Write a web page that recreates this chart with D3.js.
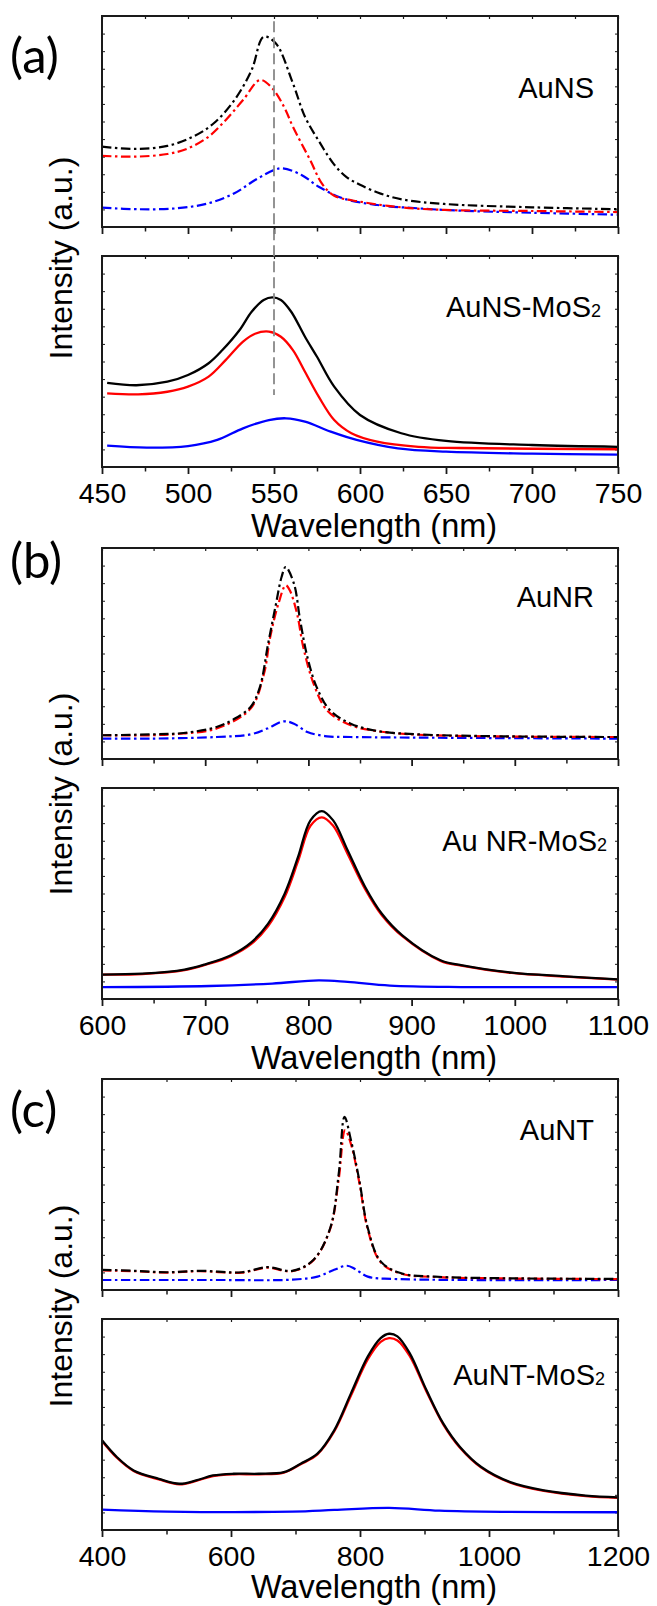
<!DOCTYPE html>
<html>
<head>
<meta charset="utf-8">
<script src="https://cdn.jsdelivr.net/npm/d3@7"></script>
<style>
  body { margin: 0; background: #fff; }
  svg { display: block; }
</style>
</head>
<body>
<div id="chart"></div>
<script>
// wavelength (nm), intensity (a.u.)

// (a) AuNS
var nsBlack = [[450,4.57],[469,4.44],[488,4.61],[503,5.14],[515,5.90],[527,7.22],[537,8.93],[544,10.82],[551,10.45],[561,8.17],[568,6.27],[576,4.90],[585,3.55],[592,2.85],[600,2.40],[612,1.90],[625,1.56],[649,1.31],[700,1.12],[750,1.01]];
var nsRed = [[450,4.05],[469,4.00],[488,4.15],[500,4.47],[512,5.14],[522,6.09],[532,7.22],[542,8.36],[549,7.89],[556,6.80],[561,5.70],[571,3.81],[578,2.45],[585,1.78],[600,1.44],[624,1.12],[649,0.97],[700,0.91],[750,0.85]];
var nsBlue = [[450,1.10],[471,1.01],[493,1.06],[512,1.35],[527,1.92],[539,2.67],[550,3.24],[555,3.34],[566,2.96],[576,2.29],[590,1.63],[610,1.25],[634,1.06],[658,0.93],[700,0.81],[750,0.70]];

// (a) AuNS-MoS2
var nsMoBlack = [[453,4.79],[470,4.65],[488,4.85],[500,5.23],[512,5.90],[520,6.65],[530,7.79],[537,8.83],[544,9.50],[549,9.65],[554,9.50],[560,8.83],[568,7.41],[575,6.27],[585,4.57],[600,2.96],[624,1.92],[650,1.48],[700,1.25],[750,1.15]];
var nsMoRed = [[453,4.19],[471,4.13],[488,4.28],[500,4.57],[512,5.14],[522,6.09],[532,7.13],[539,7.58],[547,7.70],[554,7.41],[561,6.65],[568,5.42],[576,4.00],[585,2.67],[595,1.92],[610,1.44],[634,1.15],[658,1.08],[750,1.01]];
var nsMoBlue = [[453,1.21],[476,1.10],[500,1.19],[517,1.54],[532,2.20],[547,2.67],[557,2.77],[568,2.58],[583,2.01],[598,1.54],[622,1.06],[650,0.87],[700,0.76],[750,0.70]];

// (b) AuNR
var nrBlack = [[600,1.35],[647,1.40],[679,1.48],[711,1.82],[727,2.24],[744,2.96],[753,4.09],[761,6.56],[768,8.64],[774,10.35],[778,10.92],[786,9.97],[792,7.89],[799,5.80],[808,4.09],[821,2.77],[841,2.01],[867,1.59],[907,1.40],[988,1.29],[1100,1.25]];
var nrRed = [[600,1.35],[647,1.35],[679,1.45],[711,1.73],[744,2.87],[757,4.86],[763,6.94],[771,8.84],[778,9.88],[782,9.59],[789,8.27],[795,6.37],[805,4.29],[818,2.77],[841,1.92],[867,1.58],[907,1.38],[988,1.28],[1100,1.25]];
var nrBlue = [[600,1.16],[647,1.16],[711,1.25],[744,1.40],[760,1.73],[776,2.14],[786,2.01],[799,1.54],[818,1.29],[841,1.25],[1100,1.16]];

// (b) Au NR-MoS2
var nrMoBlack = [[600,1.39],[639,1.44],[680,1.67],[700,1.97],[725,2.49],[745,3.24],[761,4.29],[777,5.99],[790,8.08],[802,10.16],[813,10.69],[824,10.16],[838,8.46],[855,6.37],[871,4.86],[891,3.62],[928,2.20],[948,1.92],[997,1.50],[1049,1.29],[1100,1.12]];
var nrMoRed = [[600,1.39],[639,1.42],[680,1.64],[700,1.94],[725,2.44],[745,3.15],[761,4.15],[777,5.80],[790,7.85],[802,9.85],[813,10.33],[824,9.85],[838,8.25],[855,6.25],[871,4.78],[891,3.57],[928,2.17],[948,1.90],[997,1.48],[1049,1.27],[1100,1.10]];
var nrMoBlue = [[600,0.68],[704,0.74],[765,0.88],[810,1.06],[838,0.97],[879,0.76],[948,0.68],[1100,0.68]];

// (c) AuNT
var ntBlack = [[400,1.15],[450,1.09],[500,1.01],[552,1.09],[617,1.01],[656,1.30],[695,1.09],[728,1.72],[754,3.54],[767,6.60],[776,9.85],[786,8.52],[799,6.22],[812,3.54],[832,1.63],[864,0.95],[916,0.76],[1020,0.67],[1200,0.63]];
var ntRed = [[400,1.12],[450,1.07],[500,0.99],[552,1.07],[617,0.99],[656,1.27],[695,1.07],[728,1.70],[754,3.50],[767,6.30],[777,9.09],[786,8.30],[799,6.10],[812,3.45],[832,1.58],[864,0.92],[916,0.74],[1020,0.66],[1200,0.62]];
var ntBlue = [[400,0.57],[566,0.57],[695,0.59],[734,0.76],[760,1.15],[780,1.38],[793,1.18],[812,0.76],[851,0.63],[1200,0.57]];

// (c) AuNT-MoS2
var ntMoBlack = [[400,5.10],[423,4.15],[449,3.39],[488,2.91],[520,2.63],[546,2.82],[572,3.10],[604,3.20],[643,3.20],[682,3.29],[708,3.77],[734,4.34],[760,5.67],[786,7.77],[812,9.86],[832,10.91],[845,11.16],[858,11.01],[877,10.06],[903,7.96],[929,6.06],[955,4.72],[988,3.58],[1033,2.72],[1085,2.25],[1150,1.96],[1200,1.86]];
var ntMoRed = [[400,5.06],[423,4.11],[449,3.36],[488,2.88],[520,2.60],[546,2.79],[572,3.07],[604,3.17],[643,3.17],[682,3.26],[708,3.74],[734,4.30],[760,5.60],[786,7.65],[812,9.70],[832,10.70],[845,10.91],[858,10.78],[877,9.90],[903,7.88],[929,6.01],[955,4.68],[988,3.55],[1033,2.69],[1085,2.22],[1150,1.93],[1200,1.83]];
var ntMoBlue = [[400,1.16],[501,1.05],[695,1.05],[760,1.14],[845,1.26],[923,1.10],[1020,1.03],[1200,1.01]];

// axis ranges and tick steps
var xDomains = [[450, 750], [600, 1100], [400, 1200]];
var xMajor = [50, 100, 200];
var xMinor = [25, 50, 100];
var panelLetters = ["(a)", "(b)", "(c)"];
var topNames = ["AuNS", "AuNR", "AuNT"];
var bottomNames = [["AuNS-MoS", "2"], ["Au NR-MoS", "2"], ["AuNT-MoS", "2"]];
var markerLine = 550;

var width = 657, height = 1606;
var left = 102, right = 618, boxH = 211;
var panelTops = [16, 548, 1079];
var letterY = [57, 30, 48];
var ylabelY = [242, 246, 227];
var xlabelY = [521, 521, 519];
var topNameY = [82, 59, 61];
var botNameY = [61, 63, 66];
var botNameX = [601, 607, 605];

var colors = {black: "#000", red: "#ff0000", blue: "#0000ff"};
var dashDot = "9.5,3.5,2.5,3.5";

var svg = d3.select("#chart").append("svg")
    .attr("width", width)
    .attr("height", height)
    .style("font-family", "'Liberation Sans', Arial, sans-serif");

var panels = [
    {top: [nsBlue, nsRed, nsBlack], bottom: [nsMoBlue, nsMoRed, nsMoBlack]},
    {top: [nrBlue, nrRed, nrBlack], bottom: [nrMoBlue, nrMoRed, nrMoBlack]},
    {top: [ntBlue, ntRed, ntBlack], bottom: [ntMoBlue, ntMoRed, ntMoBlack]}
];
var order = ["blue", "red", "black"];

var range = function(a, b, step){
    var out = [];
    for (var v = a; v <= b + 1e-9; v += step) out.push(v);
    return out;
};

var drawSub = function(g, xScale, yScale, series, dashed, i, showLabels){
    var y0 = yScale.range()[0];

    // bottom axis: major + minor ticks, outward
    var major = range(xDomains[i][0], xDomains[i][1], xMajor[i]);
    var minor = range(xDomains[i][0], xDomains[i][1], xMinor[i]).filter(function(v){
	return major.indexOf(v) < 0;
    });

    var xAxis = d3.axisBottom(xScale).tickValues(major).tickSize(7).tickPadding(9)
	.tickFormat(showLabels ? d3.format("d") : function(){ return ""; });
    var ax = g.append("g")
	.attr("transform", "translate(0," + y0 + ")")
	.call(xAxis);
    ax.select(".domain").remove();
    ax.selectAll("line").attr("stroke-width", 1.8);
    ax.selectAll("text")
	.style("font-family", "'Liberation Sans', Arial, sans-serif")
	.style("font-size", "28.5px")
	.attr("fill", "#000");

    var axMin = g.append("g")
	.attr("transform", "translate(0," + y0 + ")")
	.call(d3.axisBottom(xScale).tickValues(minor).tickSize(4.5).tickFormat(""));
    axMin.select(".domain").remove();
    axMin.selectAll("line").attr("stroke-width", 1.5);

    // top axis, small inward ticks
    var axTop = g.append("g")
	.attr("transform", "translate(0," + yScale.range()[1] + ")")
	.call(d3.axisTop(xScale).tickValues(major.concat(minor)).tickSize(-3).tickFormat(""));
    axTop.select(".domain").remove();
    axTop.selectAll("line").attr("stroke-width", 1.2);

    // left / right minor ticks, inward
    var yTicks = d3.range(1, 12);
    var axL = g.append("g")
	.attr("transform", "translate(" + left + ",0)")
	.call(d3.axisLeft(yScale).tickValues(yTicks).tickSize(-3).tickFormat(""));
    axL.select(".domain").remove();
    var axR = g.append("g")
	.attr("transform", "translate(" + right + ",0)")
	.call(d3.axisRight(yScale).tickValues(yTicks).tickSize(-3).tickFormat(""));
    axR.select(".domain").remove();
    g.selectAll("g line").attr("stroke", "#1a1a1a");

    var line = d3.line()
	.x(function(d){ return xScale(d[0]); })
	.y(function(d){ return yScale(d[1]); })
	.curve(d3.curveCatmullRom.alpha(0.5));

    series.forEach(function(s, k){
	g.append("path")
	    .datum(s)
	    .attr("d", line)
	    .attr("fill", "none")
	    .attr("stroke", colors[order[k]])
	    .attr("stroke-width", dashed ? 2.2 : 2.3)
	    .attr("stroke-dasharray", dashed ? dashDot : null)
	    .attr("stroke-linejoin", "round");
    });

    // frame
    g.append("rect")
	.attr("x", left)
	.attr("y", yScale.range()[1])
	.attr("width", right - left)
	.attr("height", y0 - yScale.range()[1])
	.attr("fill", "none")
	.attr("stroke", "#1a1a1a")
	.attr("stroke-width", 2);
};

panels.forEach(function(p, i){
    var top = panelTops[i];
    var g = svg.append("g");

    var xScale = d3.scaleLinear().domain(xDomains[i]).range([left, right]);
    var yTop = d3.scaleLinear().domain([0, 12]).range([top + boxH, top]);
    var yBot = d3.scaleLinear().domain([0, 12]).range([top + 240 + boxH, top + 240]);

    drawSub(g, xScale, yTop, p.top, true, i, false);
    drawSub(g, xScale, yBot, p.bottom, false, i, true);

    // sample names
    g.append("text")
	.attr("x", 594)
	.attr("y", top + topNameY[i])
	.attr("text-anchor", "end")
	.style("font-size", "29px")
	.text(topNames[i]);

    var bt = g.append("text")
	.attr("x", botNameX[i])
	.attr("y", top + 240 + botNameY[i])
	.attr("text-anchor", "end")
	.style("font-size", "29px");
    bt.append("tspan").text(bottomNames[i][0]);
    bt.append("tspan").style("font-size", "18px").text(bottomNames[i][1]);

    // axis titles
    g.append("text")
	.attr("x", (left + right) / 2 + 14)
	.attr("y", top + xlabelY[i])
	.attr("text-anchor", "middle")
	.style("font-size", "32.5px")
	.text("Wavelength (nm)");

    g.append("text")
	.attr("transform", "translate(72," + (top + ylabelY[i]) + ") rotate(-90)")
	.attr("text-anchor", "middle")
	.style("font-size", "32px")
	.text("Intensity (a.u.)");

    g.append("text")
	.attr("x", 10)
	.attr("y", top + letterY[i])
	.style("font-family", "Lato, 'Open Sans', sans-serif")
	.style("font-size", "49px")
	.text(panelLetters[i]);

    // dashed guide at the AuNS resonance
    if (i == 0) {
	g.append("line")
	    .attr("x1", xScale(markerLine))
	    .attr("x2", xScale(markerLine))
	    .attr("y1", yTop(11.7))
	    .attr("y2", yBot(4.1))
	    .attr("stroke", "#888")
	    .attr("stroke-width", 1.8)
	    .attr("stroke-dasharray", "11,5");
    }
});
</script>
</body>
</html>
